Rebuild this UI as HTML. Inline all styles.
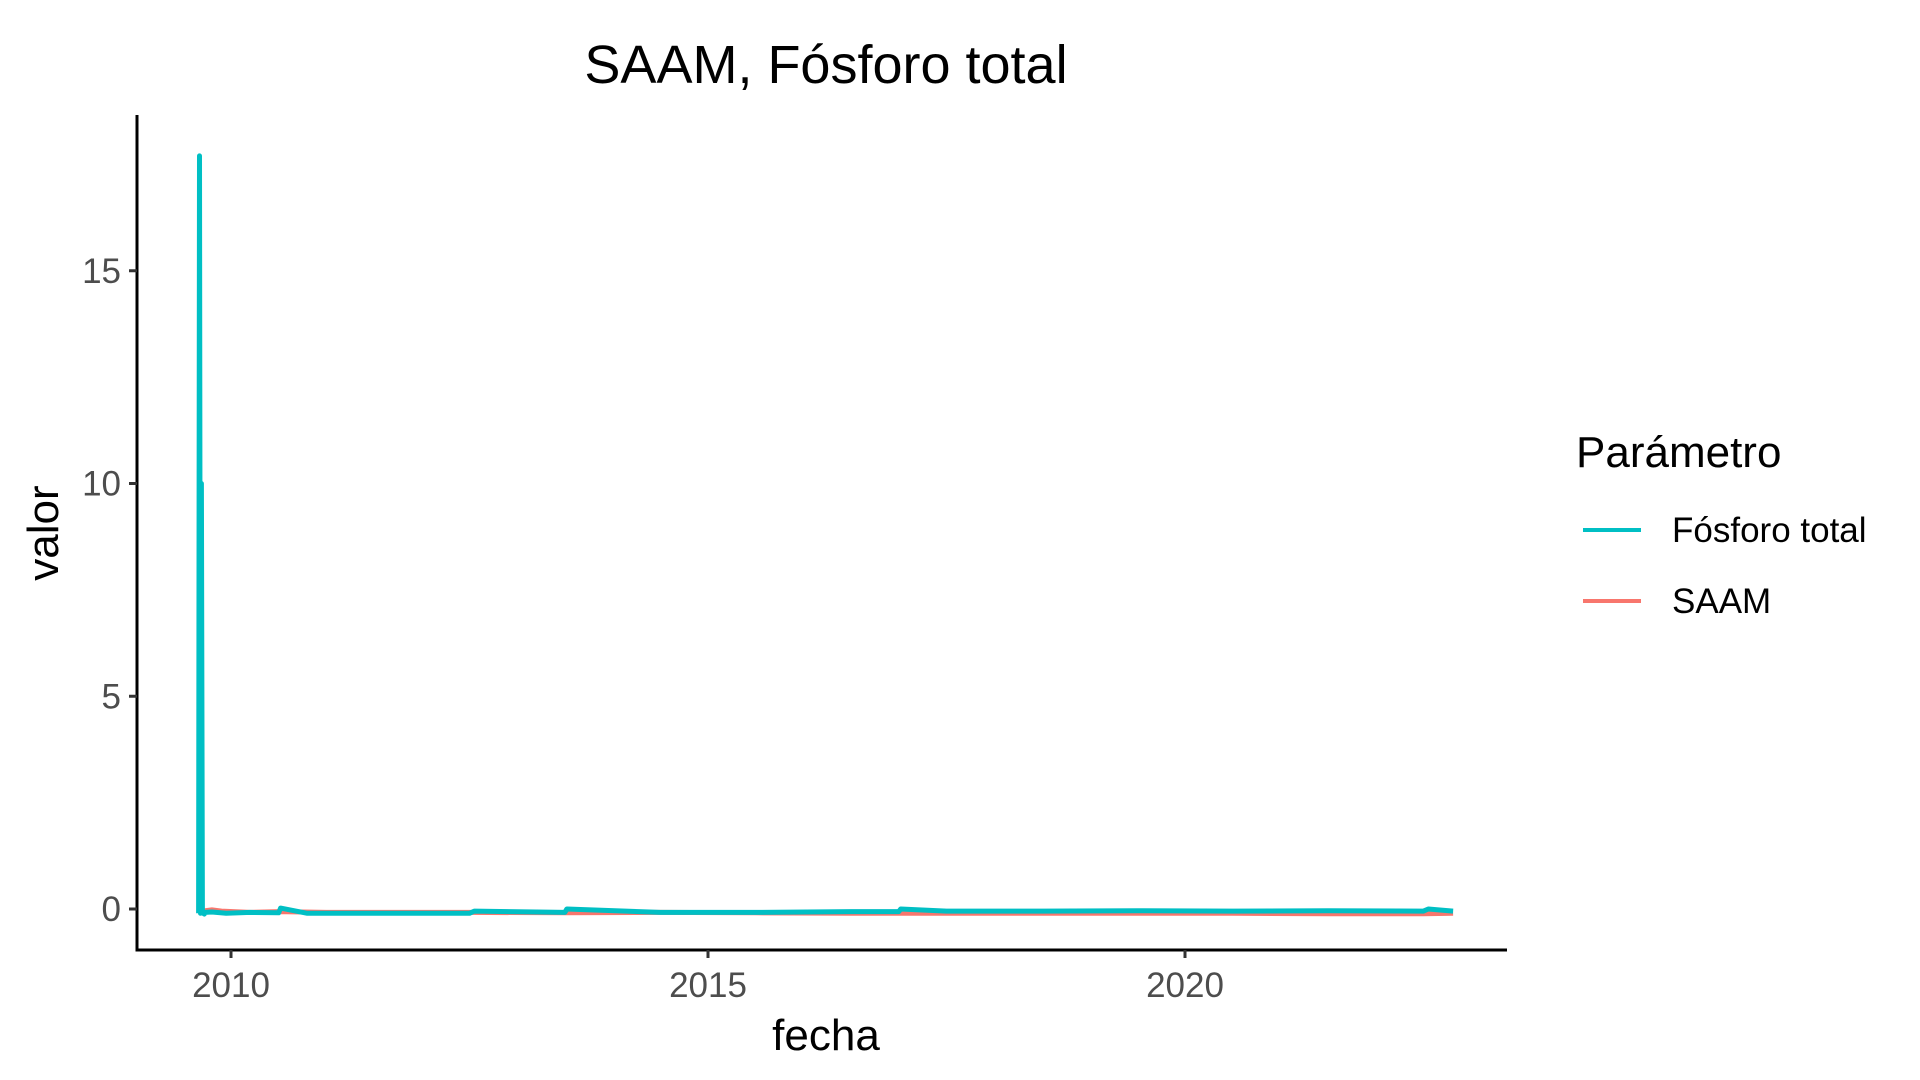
<!DOCTYPE html>
<html><head><meta charset="utf-8"><style>
body{margin:0;background:#fff;}
svg{display:block;font-family:"Liberation Sans",sans-serif;}
</style></head><body>
<svg id="chart" width="1920" height="1080" viewBox="0 0 1920 1080">
<text x="826" y="83" font-size="54" text-anchor="middle" fill="#000">SAAM, Fósforo total</text>
<g id="plot"></g>
<line x1="137" y1="115" x2="137" y2="951" stroke="#000" stroke-width="3"/>
<line x1="135.5" y1="950" x2="1507" y2="950" stroke="#000" stroke-width="3"/>
<g id="yticks"></g>
<g id="xticks"></g>
<text x="826" y="1050" font-size="44" text-anchor="middle" fill="#000">fecha</text>
<text transform="translate(58,533) rotate(-90)" font-size="44" text-anchor="middle" fill="#000">valor</text>
<g>
<text x="1576" y="467" font-size="44" fill="#000">Parámetro</text>
<g>
<line x1="1583" y1="530" x2="1641" y2="530" stroke="#00BFC4" stroke-width="4"/>
<text x="1672" y="542" font-size="35" fill="#000">Fósforo total</text></g>
<g>
<line x1="1583" y1="601" x2="1641" y2="601" stroke="#F8766D" stroke-width="4"/>
<text x="1672" y="613" font-size="35" fill="#000">SAAM</text></g>
</g>
</svg>
<script>
const yTicks=[0,5,10,15];
const xTicks=[2010,2015,2020];
const saamDates=[2009.70,2009.8,2009.9,2010.2,2010.5,2011,2011.8,2012.5,2013.5,2014.5,2015.5,2016.5,2017.5,2018.5,2019.5,2020.5,2021.5,2022.5,2022.81];
const saamVals=[-0.05,-0.02,-0.05,-0.08,-0.06,-0.08,-0.08,-0.08,-0.09,-0.08,-0.09,-0.1,-0.1,-0.1,-0.1,-0.1,-0.11,-0.11,-0.1];
const fosDates=[2009.66,2009.67,2009.68,2009.69,2009.7,2009.71,2009.72,2009.73,2009.8,2009.95,2010.2,2010.5,2010.52,2010.8,2011.5,2012.5,2012.55,2013.5,2013.52,2014.5,2015.5,2016.5,2017.0,2017.02,2017.5,2018.5,2019.5,2020.5,2021.5,2022.5,2022.55,2022.81];
const fosVals=[-0.1,17.7,-0.1,10,-0.05,-0.1,-0.12,-0.08,-0.07,-0.1,-0.08,-0.09,0.02,-0.1,-0.1,-0.1,-0.05,-0.08,0.0,-0.08,-0.08,-0.06,-0.06,0.0,-0.05,-0.05,-0.04,-0.05,-0.04,-0.05,0.0,-0.05];
const X=v=>231+(v-2010)*95.4;
const Y=v=>909-v*42.55;
const ns="http://www.w3.org/2000/svg";
const plot=document.getElementById('plot');
function line(ds,vs,color,name){
 const p=document.createElementNS(ns,'path');
 p.setAttribute('d',ds.map((d,i)=>(i?'L':'M')+X(d).toFixed(1)+','+Y(vs[i]).toFixed(1)).join(''));
 p.setAttribute('fill','none');p.setAttribute('stroke',color);p.setAttribute('stroke-width','5');p.setAttribute('stroke-linejoin','round');
 
 
 plot.appendChild(p);
}
line(saamDates,saamVals,'#F8766D','saam-line');
line(fosDates,fosVals,'#00BFC4','fosforo-line');
const yg=document.getElementById('yticks');
yTicks.forEach(t=>{
 const l=document.createElementNS(ns,'line');
 l.setAttribute('x1',129);l.setAttribute('x2',137);l.setAttribute('y1',Y(t));l.setAttribute('y2',Y(t));
 l.setAttribute('stroke','#333');l.setAttribute('stroke-width','3');
 
 
 yg.appendChild(l);
 const tx=document.createElementNS(ns,'text');
 tx.setAttribute('x',121);tx.setAttribute('y',Y(t)+12);tx.setAttribute('text-anchor','end');
 tx.setAttribute('font-size','35');tx.setAttribute('fill','#4d4d4d');tx.textContent=t;
 
 
 yg.appendChild(tx);
});
const xg=document.getElementById('xticks');
xTicks.forEach(t=>{
 const l=document.createElementNS(ns,'line');
 l.setAttribute('x1',X(t));l.setAttribute('x2',X(t));l.setAttribute('y1',950);l.setAttribute('y2',958);
 l.setAttribute('stroke','#333');l.setAttribute('stroke-width','3');
 
 
 xg.appendChild(l);
 const tx=document.createElementNS(ns,'text');
 tx.setAttribute('x',X(t));tx.setAttribute('y',997);tx.setAttribute('text-anchor','middle');
 tx.setAttribute('font-size','35');tx.setAttribute('fill','#4d4d4d');tx.textContent=t;
 
 
 xg.appendChild(tx);
});
</script>
</body></html>
